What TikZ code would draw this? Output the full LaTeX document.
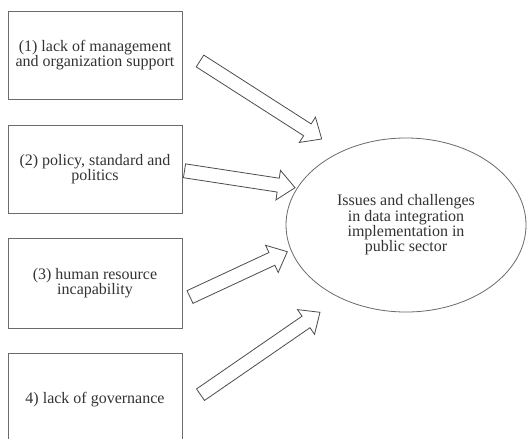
\documentclass[tikz,border=0pt]{standalone}
\usepackage{fontspec}
\setmainfont{Liberation Serif}
\usetikzlibrary{calc,shapes.geometric}
\definecolor{boxline}{gray}{0.42}
\definecolor{arrline}{gray}{0.3}
\definecolor{txt}{gray}{0.2}
\newcommand\blockarrow[2]{%
  \path ($(#2)!12.75pt!(#1)$) coordinate (hb);
  \draw[blockarr] ($(#1)!5.25pt!90:(#2)$) -- ($(hb)!5.25pt!90:(#2)$)
    -- ($(hb)!11.25pt!90:(#2)$) -- (#2) -- ($(hb)!11.25pt!-90:(#2)$)
    -- ($(hb)!5.25pt!-90:(#2)$) -- ($(#1)!5.25pt!-90:(#2)$) -- cycle;}
\tikzset{
  box/.style={draw=boxline, line width=0.6pt, minimum width=130.5pt,
    minimum height=66pt, align=center, text=txt, inner sep=0pt,
    font=\fontsize{12}{11.5}\selectfont},
  goal/.style={draw=boxline, line width=0.6pt, ellipse, minimum width=180pt,
    minimum height=130.5pt, align=center, text=txt, inner sep=0pt,
    font=\fontsize{12}{11.5}\selectfont},
  blockarr/.style={draw=arrline, line width=0.6pt, line join=miter, fill=white}
}
\begin{document}
\begin{tikzpicture}[x=0.75pt, y=-0.75pt]
  \useasboundingbox[fill=white] (0,0) rectangle (527,438);
  \node[box] (b1) at (95,55) {(1) lack of management\\and organization support};
  \node[box] (b2) at (95,169) {(2) policy, standard and\\politics};
  \node[box, minimum height=67.5pt] (b3) at (95,283) {(3) human resource\\incapability};
  \node[box, minimum height=69.75pt] (b4) at (95,399.5) {4) lack of governance};
  \node[goal] (g) at (406,225) {Issues and challenges\\in data integration\\implementation in\\public sector};
  \coordinate (t1) at (200,61);    \coordinate (p1) at (321.7,139);
  \coordinate (t2) at (184.5,170.8); \coordinate (p2) at (295,187.7);
  \coordinate (t3) at (190,297);   \coordinate (p3) at (287.3,251.7);
  \coordinate (t4) at (200.5,394.7); \coordinate (p4) at (320,312.3);
  \blockarrow{t1}{p1}
  \blockarrow{t2}{p2}
  \blockarrow{t3}{p3}
  \blockarrow{t4}{p4}
\end{tikzpicture}
\end{document}
